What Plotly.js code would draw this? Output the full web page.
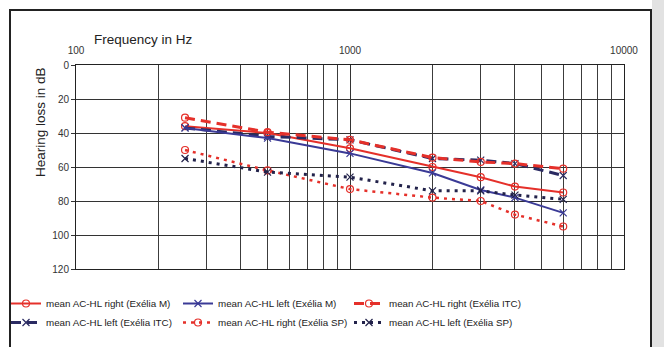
<!DOCTYPE html>
<html>
<head>
<meta charset="utf-8">
<script src="https://cdn.plot.ly/plotly-3.0.1.min.js"></script>
<style>html,body{margin:0;padding:0;background:#fff;}#chart{width:664px;height:347px;}</style>
</head>
<body>
<div id="chart"></div>
<script>
// Frequencies (Hz)
var freqs = [250, 500, 1000, 2000, 3000, 4000, 6000];
// Mean hearing loss (dB)
var rightM   = [36, 40, 49, 60, 66, 71.5, 75];
var leftM    = [37, 43, 52, 63.5, 73.5, 78, 87];
var rightITC = [31, 39.5, 44, 54.5, 57, 58, 61];
var leftITC  = [37, 42, 44, 55, 56, 58, 65];
var rightSP  = [50, 62, 73, 78, 80, 88, 95];
var leftSP   = [55, 63, 66, 74, 74, 76.5, 79];
var names = [
  'mean AC-HL right (Exélia M)',
  'mean AC-HL left (Exélia M)',
  'mean AC-HL right (Exélia ITC)',
  'mean AC-HL left (Exélia ITC)',
  'mean AC-HL right (Exélia SP)',
  'mean AC-HL left (Exélia SP)'
];
var xTickVals = [100, 1000, 10000];
var xTickText = ['100', '1000', '10000'];
var xMinorVals = [200,300,400,500,600,700,800,900,2000,3000,4000,5000,6000,7000,8000,9000];
var yTickVals = [0, 20, 40, 60, 80, 100, 120];

var RED = '#e5302a', NAVY = '#3a3a96', DARK = '#2a2a62', DARKDOT = '#22224a';

function tr(y, name, color, dash, width, symbol, legend) {
  return {
    x: freqs, y: y, name: name, type: 'scatter', mode: 'lines+markers',
    line: {color: color, dash: dash, width: width},
    marker: {symbol: symbol, size: 7, color: color, line: {color: color, width: 1.2}},
    legend: legend
  };
}
var data = [
  tr(rightM, names[0], RED, 'solid', 2, 'circle-open', 'legend'),
  tr(leftITC, names[3], DARK, '10px,6px', 3, 'x-thin-open', 'legend'),
  tr(leftM, names[1], NAVY, 'solid', 2, 'x-thin-open', 'legend2'),
  tr(rightSP, names[4], RED, '3px,5px', 2.5, 'circle-open', 'legend2'),
  tr(rightITC, names[2], RED, '10px,6px', 3, 'circle-open', 'legend3'),
  tr(leftSP, names[5], DARKDOT, '3px,5px', 3, 'x-thin-open', 'legend3')
];

var L = 76, R = 624, T = 65, B = 269;
function px(x) { return (x - L) / (R - L); }
function py(y) { return (B - y) / (B - T); }

var legendFont = {family: 'Liberation Sans, Arial, sans-serif', size: 9.8, color: '#1a1a1a'};
function leg(xp) {
  return {x: px(xp), y: py(289), xanchor: 'left', yanchor: 'top', orientation: 'v',
          bgcolor: 'rgba(0,0,0,0)', font: legendFont, tracegroupgap: 0};
}

var layout = {
  width: 664, height: 347, autosize: false,
  margin: {l: L, r: 664 - R, t: T, b: 347 - B, autoexpand: false},
  paper_bgcolor: '#fff', plot_bgcolor: '#fff',
  showlegend: true,
  legend: leg(6), legend2: leg(178), legend3: leg(349),
  xaxis: {
    type: 'log', range: [2, 4], side: 'top',
    tickmode: 'array', tickvals: xTickVals, ticktext: xTickText,
    showgrid: true, gridcolor: '#333', gridwidth: 1,
    minor: {tickmode: 'array', tickvals: xMinorVals, showgrid: true, gridcolor: '#3c3c3c', gridwidth: 1, ticks: ''},
    showline: true, linecolor: '#222', linewidth: 1, mirror: true,
    ticks: '', ticklabelstandoff: 6,
    tickfont: {family: 'Liberation Sans, Arial, sans-serif', size: 10, color: '#333'},
    zeroline: false, fixedrange: true, automargin: false
  },
  yaxis: {
    range: [120, 0], tickmode: 'array', tickvals: yTickVals,
    showgrid: true, gridcolor: '#333', gridwidth: 1,
    showline: true, linecolor: '#222', linewidth: 1, mirror: true,
    ticks: 'outside', ticklen: 4, tickcolor: '#333',
    tickfont: {family: 'Liberation Sans, Arial, sans-serif', size: 10, color: '#333'},
    zeroline: false, fixedrange: true, automargin: false
  },
  annotations: [
    {text: 'Frequency in Hz', xref: 'paper', yref: 'paper', x: px(92), y: py(39),
     xanchor: 'left', yanchor: 'middle', showarrow: false,
     font: {family: 'Liberation Sans, Arial, sans-serif', size: 13.5, color: '#222'}},
    {text: 'Hearing loss in dB', xref: 'paper', yref: 'paper', x: px(40), y: py(122),
     xanchor: 'center', yanchor: 'middle', textangle: -90, showarrow: false,
     font: {family: 'Liberation Sans, Arial, sans-serif', size: 13.5, color: '#222'}}
  ],
  shapes: [
    {type: 'rect', xref: 'paper', yref: 'paper', x0: px(10), x1: px(651), y0: py(10), y1: py(370),
     line: {color: '#222', width: 2}, fillcolor: 'rgba(0,0,0,0)', layer: 'below'},
    {type: 'rect', xref: 'paper', yref: 'paper', x0: px(652), x1: px(668), y0: py(-5), y1: py(370),
     line: {width: 0}, fillcolor: '#e2e2e2', layer: 'below'}
  ]
};

Plotly.newPlot('chart', data, layout, {displayModeBar: false, staticPlot: true});
</script>
</body>
</html>
